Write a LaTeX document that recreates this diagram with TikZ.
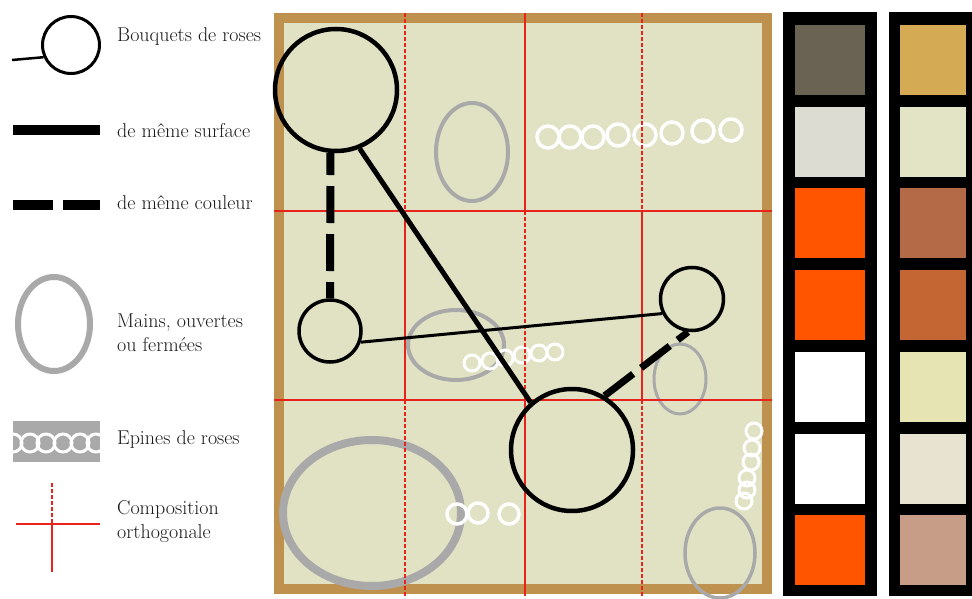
\documentclass[tikz,border=0pt]{standalone}
\usepackage{tikz}
\usepackage{xcolor}
\definecolor{cadre}{HTML}{BF914F}
\definecolor{fond}{HTML}{E1E1C4}
\definecolor{gris}{HTML}{A9A9A9}
\definecolor{rouge}{HTML}{E8231B}
\definecolor{pA}{HTML}{6A6353}
\definecolor{pB}{HTML}{DCDCD2}
\definecolor{pC}{HTML}{FF5500}
\definecolor{pE}{HTML}{FFFFFF}
\definecolor{qA}{HTML}{D4AA55}
\definecolor{qB}{HTML}{E3E3C6}
\definecolor{qC}{HTML}{B46A46}
\definecolor{qD}{HTML}{C46634}
\definecolor{qE}{HTML}{E6E4B2}
\definecolor{qF}{HTML}{E8E3D1}
\definecolor{qG}{HTML}{C89D88}

\begin{document}
\begin{tikzpicture}[
        x=1pt, y=-1pt,
        bouquet/.style  = {draw, circle, inner sep=0pt, line width=4.5pt},
        main/.style     = {draw=gris, line width=4pt},
        epine/.style    = {draw=white, line width=3.5pt},
        trait/.style    = {draw=rouge, line width=1.6pt},
        pointille/.style= {trait, dash pattern=on 4pt off 2pt},
        surface/.style  = {line width=5pt},
        couleur/.style  = {line width=8pt, dash pattern=on 37pt off 11pt},
        legende/.style  = {anchor=west, align=left, inner sep=0pt, text=black!90, font=\fontsize{20}{24}\selectfont},
    ]
        \useasboundingbox (0,0) rectangle (972,599);

        % Palettes
        \fill[black] (783,12) rectangle (877,596);
        \fill[black] (889,12) rectangle (972,596);
        \foreach \c [count=\i] in {pA, pB, pC, pC, pE, pE, pC}
            \fill[\c] (795,{25+(\i-1)*81.7}) rectangle ++(70,70);
        \foreach \c [count=\i] in {qA, qB, qC, qD, qE, qF, qG}
            \fill[\c] (900,{25+(\i-1)*81.7}) rectangle ++(66,70);

        % Tableau
        \draw[cadre, line width=10pt, fill=fond] (279,18) rectangle (767,589);

        % Mains
        \draw[main] (472,152) ellipse [x radius=36pt, y radius=49pt];
        \draw[main] (456,345) ellipse [x radius=48pt, y radius=35pt];
        \draw[main, line width=3pt] (680,379) ellipse [x radius=26pt, y radius=35pt];
        \draw[main, line width=8pt] (372,513) ellipse [x radius=89pt, y radius=73pt];
        \draw[main, line width=3.5pt] (720,553) ellipse [x radius=35pt, y radius=45pt];

        % Epines
        \foreach \x/\y in {548/137, 570/137, 593/137, 618/135, 645/135, 672/133, 703/131, 731/130}
            \draw[epine] (\x,\y) circle[radius=11pt];
        \foreach \x/\y in {472/363, 490/361, 505/358, 522/355, 539/353, 555/352}
            \draw[epine, line width=3pt] (\x,\y) circle[radius=8pt];
        \foreach \x/\y in {457/514, 478/513, 509/514}
            \draw[epine] (\x,\y) circle[radius=10pt];
        \foreach \x/\y in {754/431, 752/448, 751/462, 747/478, 747/490, 744/501}
            \draw[epine, line width=3pt] (\x,\y) circle[radius=8pt];

        % Composition orthogonale
        \draw[trait] (274,211) -- (772,211);
        \draw[trait] (274,400) -- (772,400);
        \foreach \x/\a/\b in {405/pointille/trait, 525/trait/pointille, 642/pointille/trait} {
            \draw[\a] (\x,13) -- (\x,211);
            \draw[\b] (\x,211) -- (\x,400);
            \draw[\a] (\x,400) -- (\x,596);
        }

        % Bouquets
        \node[bouquet, minimum size=122pt] (bqA) at (336,90) {};
        \node[bouquet, minimum size=62pt, line width=3.5pt] (bqB) at (330,331) {};
        \node[bouquet, minimum size=122pt] (bqC) at (572,450) {};
        \node[bouquet, minimum size=63pt, line width=3.5pt] (bqD) at (692,299) {};

        \draw[surface] (bqA.-68) -- (bqC.131);
        \draw[surface, line width=3pt] (bqB.-20) -- (bqD.206);
        \draw[couleur, dash phase=15pt] (bqA.-95) -- (bqB.north);
        \draw[couleur, line width=7pt, dash pattern=on 36pt off 10pt] (bqC.59) -- (bqD.-97);

        % Legende
        \node[bouquet, minimum size=57pt, line width=3pt] (lgBouquet) at (71,45) {};
        \coordinate (lgTige) at (12,60);
        \draw[line width=2.5pt] (lgTige) -- (lgBouquet.204);
        \node[legende] (txBouquet) at (117,37) {Bouquets de roses};

        \coordinate (lgSurfA) at (13,130);
        \coordinate (lgSurfB) at (100,130);
        \draw[line width=10pt] (lgSurfA) -- (lgSurfB);
        \node[legende] (txSurface) at (117,131) {de même surface};

        \coordinate (lgCoulA) at (13,205);
        \coordinate (lgCoulB) at (100,205);
        \draw[line width=10pt, dash pattern=on 40pt off 10pt] (lgCoulA) -- (lgCoulB);
        \node[legende] (txCouleur) at (117,203) {de même couleur};

        \draw[main, line width=6pt] (54,324) ellipse [x radius=36pt, y radius=47pt];
        \node[legende] (txMains) at (117,333) {Mains, ouvertes\\ou fermées};

        \fill[gris] (13,421) rectangle (100,462);
        \begin{scope}
            \clip (13,421) rectangle (100,462);
            \foreach \x in {13, 30, 46, 63, 80, 96}
                \draw[epine, line width=3pt] (\x,443) circle[radius=9pt];
        \end{scope}
        \node[legende] (txEpines) at (117,440) {Epines de roses};

        \draw[trait] (16,524) -- (100,524);
        \draw[pointille] (52,483) -- (52,524);
        \draw[trait] (52,524) -- (52,572);
        \node[legende] (txCompo) at (117,522) {Composition\\orthogonale};
    \end{tikzpicture}
\end{document}
